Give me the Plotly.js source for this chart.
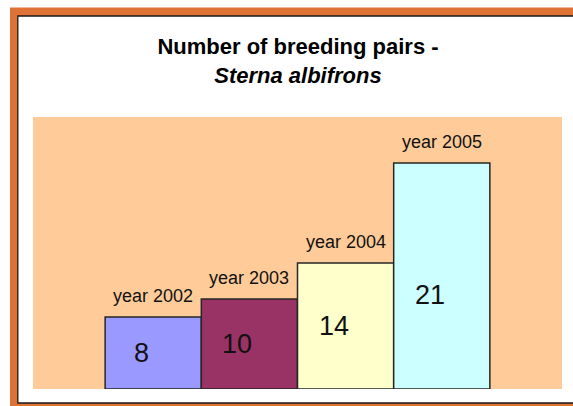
<!DOCTYPE html>
<html>
<head>
<meta charset="utf-8">
<script src="https://cdn.plot.ly/plotly-3.0.1.min.js"></script>
<style>
  html, body { margin: 0; padding: 0; background: #ffffff; }
  #chart { width: 573px; height: 406px; }
</style>
</head>
<body>
<div id="chart"></div>
<script>
// ---- data ----
const years = ['2002', '2003', '2004', '2005'];
const yearLabels = ['year 2002', 'year 2003', 'year 2004', 'year 2005'];
// number of breeding pairs written on the bars
const pairCounts = [8, 10, 14, 21];
// bar heights as drawn in the reference (the 2005 bar is drawn taller than its label)
const barHeights = [8, 10, 14, 25.1];
const barColors = ['#9999FF', '#993366', '#FFFFCC', '#CCFFFF'];

// ---- geometry helpers (pixel -> paper) ----
const W = 573, H = 406;
const M = { l: 33, r: 11, t: 117, b: 17 };
const PW = W - M.l - M.r, PH = H - M.t - M.b;
const px = x => (x - M.l) / PW;
const py = y => (H - M.b - y) / PH;

const trace = {
  type: 'bar',
  x: years,
  y: barHeights,
  marker: { color: barColors, line: { color: '#262626', width: 1.5 } },
  hoverinfo: 'none',
  showlegend: false
};

const annotations = [];
years.forEach((yr, i) => {
  annotations.push({
    x: i, y: barHeights[i], xref: 'x', yref: 'y',
    text: yearLabels[i], showarrow: false,
    xanchor: 'center', yanchor: 'middle', yshift: 21,
    font: { family: 'Liberation Sans, Arial, sans-serif', size: 18, color: '#111111' }
  });
  annotations.push({
    x: i, y: pairCounts[i] / 2, xref: 'x', yref: 'y',
    text: String(pairCounts[i]), showarrow: false,
    xanchor: 'center', yanchor: 'middle', xshift: -12,
    font: { family: 'Liberation Sans, Arial, sans-serif', size: 27, color: '#111111' }
  });
});

const shapes = [
  // orange outer frame
  { type: 'rect', xref: 'paper', yref: 'paper', layer: 'below',
    x0: px(10), x1: px(590), y0: py(7.5), y1: py(420),
    fillcolor: '#DF7336', line: { width: 0 } },
  // white chart area with thin dark border
  { type: 'rect', xref: 'paper', yref: 'paper', layer: 'below',
    x0: px(17.8), x1: px(600), y0: py(16), y1: py(403),
    fillcolor: '#FFFFFF', line: { color: '#1a1a1a', width: 1.3 } },
  // peach plot area
  { type: 'rect', xref: 'paper', yref: 'paper', layer: 'below',
    x0: 0, x1: 1, y0: 0, y1: 1,
    fillcolor: '#FFCC99', line: { width: 0 } }
];

const layout = {
  width: W, height: H,
  margin: M,
  paper_bgcolor: '#FFFFFF',
  plot_bgcolor: 'rgba(0,0,0,0)',
  bargap: 0,
  title: {
    text: '<b>Number of breeding pairs -</b><br><b><i>Sterna albifrons</i></b>',
    x: 298 / W, xref: 'container', xanchor: 'center',
    y: 1 - 54 / H, yref: 'container', yanchor: 'middle',
    font: { family: 'Liberation Sans, Arial, sans-serif', size: 22, color: '#000000' }
  },
  xaxis: {
    type: 'category', range: [-1.25, 4.25],
    showgrid: false, zeroline: false, showline: false,
    showticklabels: false, ticks: '', fixedrange: true
  },
  yaxis: {
    range: [0, PH / 9],
    showgrid: false, zeroline: false, showline: false,
    showticklabels: false, ticks: '', fixedrange: true
  },
  shapes: shapes,
  annotations: annotations
};

Plotly.newPlot('chart', [trace], layout, { displayModeBar: false, staticPlot: true });
</script>
</body>
</html>
